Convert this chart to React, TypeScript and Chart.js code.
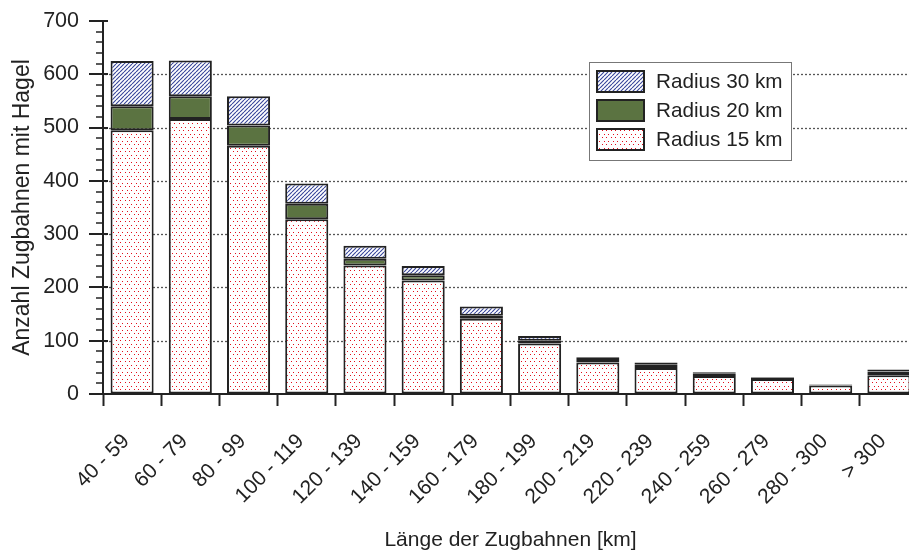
import React, { useEffect, useRef } from 'react';
import { Chart, registerables } from 'chart.js';

Chart.register(...registerables);

const categories = ['40 - 59', '60 - 79', '80 - 99', '100 - 119', '120 - 139', '140 - 159', '160 - 179', '180 - 199', '200 - 219', '220 - 239', '240 - 259', '260 - 279', '280 - 300', '> 300'];
const radius15 = [495, 516, 466, 328, 241, 213, 141, 95, 59, 49, 34, 28, 16, 35];
const radius20 = [540, 559, 504, 357, 254, 223, 147, 100, 62, 55, 39, 31, 17, 42];
const radius30 = [625, 626, 559, 395, 278, 240, 164, 109, 69, 59, 41, 32, 18, 46];
const seriesLabels = ['Radius 30 km', 'Radius 20 km', 'Radius 15 km'];
const yMax = 700;
const yStep = 100;
const yMinorStep = 20;

const FONT = '"Liberation Sans", Arial, Helvetica, sans-serif';
const INK = '#222222';

function makeHatch(): CanvasPattern | string {
  const c = document.createElement('canvas');
  c.width = 4; c.height = 4;
  const g = c.getContext('2d');
  if (!g) return '#8890c0';
  g.fillStyle = '#ffffff';
  g.fillRect(0, 0, 4, 4);
  g.strokeStyle = '#3a479c';
  g.lineWidth = 1.15;
  g.beginPath();
  for (let k = -1; k <= 1; k++) {
    g.moveTo(k * 4, 4);
    g.lineTo(k * 4 + 4, 0);
  }
  g.stroke();
  return g.createPattern(c, 'repeat') as CanvasPattern;
}

function makeDots(): CanvasPattern | string {
  const c = document.createElement('canvas');
  c.width = 9; c.height = 7;
  const g = c.getContext('2d');
  if (!g) return '#ffdddd';
  g.fillStyle = '#ffffff';
  g.fillRect(0, 0, 9, 7);
  g.fillStyle = '#e3101c';
  [[1, 1], [5, 1], [3, 4], [8, 4]].forEach(([x, y]) => g.fillRect(x, y, 1, 1));
  return g.createPattern(c, 'repeat') as CanvasPattern;
}

const decorPlugin = {
  id: 'decor',
  beforeDatasetsDraw(chart: any) {
    const { ctx, chartArea, scales } = chart;
    const y = scales.y;
    ctx.save();
    ctx.strokeStyle = '#555555';
    ctx.lineWidth = 1.3;
    ctx.setLineDash([2, 2]);
    for (let v = yStep; v < yMax; v += yStep) {
      const py = Math.round(y.getPixelForValue(v)) + 0.5;
      ctx.beginPath();
      ctx.moveTo(chartArea.left + 2, py);
      ctx.lineTo(chartArea.right, py);
      ctx.stroke();
    }
    ctx.restore();
  },
  afterDraw(chart: any) {
    const { ctx, chartArea, scales } = chart;
    const y = scales.y;
    ctx.save();
    ctx.strokeStyle = INK;
    for (let v = 0; v <= yMax; v += yMinorStep) {
      const major = v % yStep === 0;
      const py = Math.round(y.getPixelForValue(v));
      ctx.lineWidth = major ? 2 : 1.5;
      ctx.beginPath();
      ctx.moveTo(chartArea.left - (major ? 14 : 7), py);
      ctx.lineTo(chartArea.left + (major ? 5 : 0), py);
      ctx.stroke();
    }
    // legend
    const bx = 589.5, by = 62.5, bw = 202, bh = 98;
    ctx.fillStyle = '#ffffff';
    ctx.fillRect(bx, by, bw, bh);
    ctx.strokeStyle = '#777777';
    ctx.lineWidth = 1;
    ctx.strokeRect(bx, by, bw, bh);
    chart.data.datasets.forEach((ds: any, i: number) => {
      const sy = 71 + i * 29;
      ctx.fillStyle = ds.backgroundColor;
      ctx.fillRect(597, sy, 47, 21);
      ctx.strokeStyle = INK;
      ctx.lineWidth = 2;
      ctx.strokeRect(597, sy, 47, 21);
      ctx.fillStyle = INK;
      ctx.font = '20.7px ' + FONT;
      ctx.textBaseline = 'middle';
      ctx.textAlign = 'left';
      ctx.fillText(ds.label, 656, sy + 11.5);
    });
    ctx.restore();
  },
};

export default function App() {
  const ref = useRef<HTMLCanvasElement | null>(null);
  useEffect(() => {
    if (!ref.current) return;
    const hatch = makeHatch();
    const dots = makeDots();
    const common = {
      grouped: false,
      borderColor: INK,
      borderWidth: 2,
      borderSkipped: false,
      categoryPercentage: 1,
      barPercentage: 0.74,
    };
    const chart = new Chart(ref.current, {
      type: 'bar',
      data: {
        labels: categories,
        datasets: [
          { ...common, label: seriesLabels[0], data: radius30.map((v, i) => [radius20[i], v]), backgroundColor: hatch as any },
          { ...common, label: seriesLabels[1], data: radius20.map((v, i) => [radius15[i], v]), backgroundColor: '#5b7341' },
          { ...common, label: seriesLabels[2], data: radius15.map((v) => [0, v]), backgroundColor: dots as any },
        ] as any,
      },
      options: {
        responsive: false,
        animation: false,
        layout: { padding: { top: 21, right: 2, left: 0, bottom: 0 } },
        plugins: { legend: { display: false }, tooltip: { enabled: false } },
        scales: {
          x: {
            afterFit: (s: any) => { s.height = 160; s.paddingLeft = 0; s.paddingRight = 0; },
            grid: { offset: true, drawOnChartArea: false, drawTicks: true, tickLength: 12, tickColor: INK, tickWidth: 2 },
            border: { color: INK, width: 2 },
            ticks: { color: INK, font: { family: FONT, size: 21 }, minRotation: 45, maxRotation: 45, autoSkip: false, padding: 23, labelOffset: -6 },
            title: { display: true, text: 'Länge der Zugbahnen [km]', color: INK, font: { family: FONT, size: 21, lineHeight: 1.2 }, padding: { top: 0, bottom: 1 } },
          },
          y: {
            min: 0,
            max: yMax,
            afterFit: (s: any) => { s.width = 103; s.paddingTop = 0; s.paddingBottom = 0; },
            grid: { drawOnChartArea: false, drawTicks: false },
            border: { color: INK, width: 2 },
            ticks: { stepSize: yStep, color: INK, font: { family: FONT, size: 21.5 }, padding: 24 },
            title: { display: true, text: 'Anzahl Zugbahnen mit Hagel', color: INK, font: { family: FONT, size: 23, lineHeight: 1.2 }, padding: { top: 9, bottom: 0 } },
          },
        },
      } as any,
      plugins: [decorPlugin],
    });
    return () => chart.destroy();
  }, []);
  return (
    <div style={{ position: 'absolute', left: 0, top: 0, width: 909, height: 554, overflow: 'hidden', background: '#fff' }}>
      <canvas ref={ref} width={920} height={554} style={{ display: 'block' }} />
    </div>
  );
}
